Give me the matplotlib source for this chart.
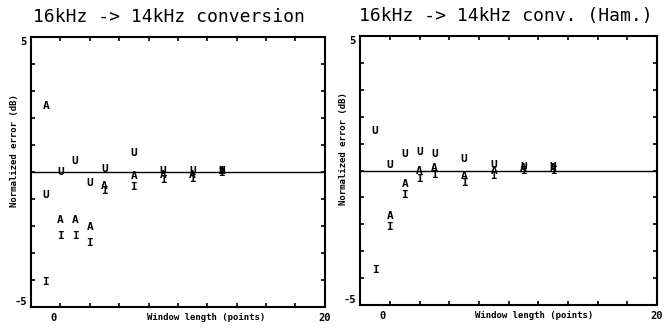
import matplotlib

matplotlib.use("Agg")
import matplotlib.pyplot as plt
import numpy as np

plt.rcParams["font.family"] = ["DejaVu Sans Mono"]

# window lengths (points)
window = [1, 2, 3, 4, 5, 7, 9, 11, 13]

# left panel: 16kHz -> 14kHz conversion
left_u = [-0.85, 0.0, 0.42, -0.42, 0.1, 0.69, 0.05, 0.05, 0.05]
left_a = [2.46, -1.76, -1.76, -2.03, -0.5, -0.15, -0.1, -0.1, 0.05]
left_i = [-4.09, -2.38, -2.38, -2.62, -0.7, -0.55, -0.3, -0.25, -0.05]

# right panel: Hamming window
right_u = [1.48, 0.19, 0.63, 0.7, 0.62, 0.43, 0.2, 0.15, 0.15]
right_a = [np.nan, -1.7, -0.5, 0.0, 0.1, -0.2, 0.0, 0.1, 0.1]
right_i = [-3.7, -2.1, -0.9, -0.3, -0.15, -0.45, -0.2, 0.0, 0.0]

titles = ["16kHz -> 14kHz conversion", "16kHz -> 14kHz conv. (Ham.)"]
xlabel = "Window length (points)"
ylabel = "Normalized error (dB)"


def draw_panel(ax, u, a, i, title, title_x, xlab_x):
    ax.set_xlim(0, 20)
    ax.set_ylim(-5, 5)
    ax.axhline(0, color="black", lw=1.0)
    # plotter symbols drawn as text at each data point
    for series, sym in ((u, "U"), (a, "A"), (i, "I")):
        for xv, yv in zip(window, series):
            if np.isnan(yv):
                continue
            ax.text(xv, yv, sym, ha="center", va="center", fontsize=8,
                    fontweight="bold", color="black")
    ax.set_xticks(np.arange(2, 20, 2))
    ax.set_yticks(np.arange(-4, 5, 1))
    ax.set_xticklabels([])
    ax.set_yticklabels([])
    ax.tick_params(direction="in", length=3, width=1.2, top=True, right=True)
    for sp in ax.spines.values():
        sp.set_linewidth(1.5)
    # sparse plotter-style tick labels
    ax.text(1.5, -0.04, "0", transform=ax.get_xaxis_transform(),
            ha="center", va="center", fontsize=7.5, fontweight="bold")
    ax.text(20, -0.04, "20", transform=ax.get_xaxis_transform(),
            ha="center", va="center", fontsize=7.5, fontweight="bold")
    ax.text(-0.015, 5, "5", transform=ax.get_yaxis_transform(),
            ha="right", va="top", fontsize=7.5, fontweight="bold")
    ax.text(-0.015, -5, "-5", transform=ax.get_yaxis_transform(),
            ha="right", va="bottom", fontsize=7.5, fontweight="bold")
    ax.text(xlab_x, -0.04, xlabel, transform=ax.transAxes,
            ha="center", va="center", fontsize=6.5, fontweight="bold")
    ax.text(-0.055, 0.58, ylabel, transform=ax.transAxes, rotation=90,
            ha="center", va="center", fontsize=6.5, fontweight="bold")
    ax.text(title_x, 1.075, title, transform=ax.transAxes,
            ha="center", va="center", fontsize=13)


fig = plt.figure(figsize=(6.67, 3.28), dpi=100)
ax1 = fig.add_axes([0.0465, 0.064, 0.4405, 0.823])
ax2 = fig.add_axes([0.540, 0.070, 0.445, 0.820])

draw_panel(ax1, left_u, left_a, left_i, titles[0], 0.47, 0.595)
draw_panel(ax2, right_u, right_a, right_i, titles[1], 0.49, 0.586)

fig.savefig("out.png", dpi=100)
